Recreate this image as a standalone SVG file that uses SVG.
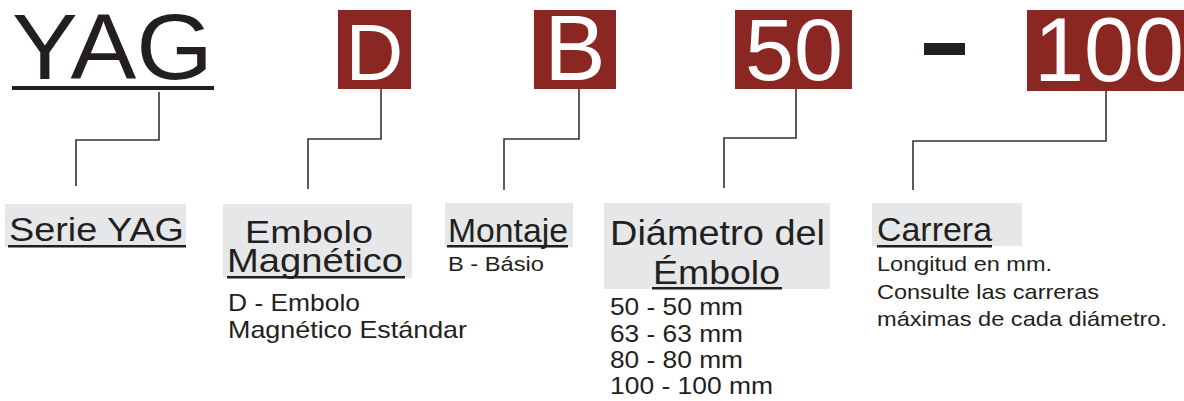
<svg xmlns="http://www.w3.org/2000/svg" width="1184" height="401" viewBox="0 0 1184 401">
<style>
text{font-family:"Liberation Sans",Arial,sans-serif;fill:#231F20}
.box{fill:#8A2723}
.w{fill:#FFFFFF}
.bg{fill:#E6E7E8}
.ul{fill:#231F20}
.c{fill:none;stroke:#333333;stroke-width:1.6}
</style>
<rect width="1184" height="401" fill="#FFFFFF"/>
<g id="yag">
<text x="12" y="79" font-size="92" textLength="201" lengthAdjust="spacingAndGlyphs">YAG</text>
<rect class="ul" x="12" y="86" width="202" height="4"/>
</g>
<g id="code-d">
<rect class="box" x="338" y="10" width="73" height="79"/>
<text class="w" x="374.5" y="80" font-size="80" text-anchor="middle">D</text>
</g>
<g id="code-b">
<rect class="box" x="534" y="10" width="82" height="79"/>
<text class="w" x="575" y="80" font-size="92" text-anchor="middle">B</text>
</g>
<g id="code-50">
<rect class="box" x="735" y="10" width="117" height="79"/>
<text class="w" x="794" y="80" font-size="88" text-anchor="middle">50</text>
</g>
<g id="dash">
<rect class="ul" x="924" y="43" width="41" height="12"/>
</g>
<g id="code-100">
<rect class="box" x="1027" y="10" width="157" height="81"/>
<text class="w" x="1034" y="81" font-size="90">100</text>
</g>
<g id="connectors">
<polyline class="c" points="159,92 159,140 76,140 76,186"/>
<polyline class="c" points="381,89 381,139 308,139 308,189"/>
<polyline class="c" points="579,89 579,139 504,139 504,190"/>
<polyline class="c" points="796,89 796,138 724,138 724,188"/>
<polyline class="c" points="1106,91 1106,141 913,141 913,190"/>
</g>
<g id="label-serie">
<rect class="bg" x="5" y="204" width="181" height="43"/>
<text x="9" y="241" font-size="34" textLength="175" lengthAdjust="spacingAndGlyphs">Serie YAG</text>
<rect class="ul" x="8" y="245" width="178" height="2.5"/>
</g>
<g id="label-embolo">
<rect class="bg" x="223" y="204" width="189" height="74"/>
<text x="245" y="243" font-size="31" textLength="128" lengthAdjust="spacingAndGlyphs">Embolo</text>
<text x="227" y="272" font-size="33" textLength="176" lengthAdjust="spacingAndGlyphs">Magnético</text>
<rect class="ul" x="227" y="276" width="178" height="2.5"/>
<text x="228" y="311" font-size="24" textLength="132" lengthAdjust="spacingAndGlyphs">D - Embolo</text>
<text x="228" y="338" font-size="24" textLength="239" lengthAdjust="spacingAndGlyphs">Magnético Estándar</text>
</g>
<g id="label-montaje">
<rect class="bg" x="445" y="203" width="128" height="44"/>
<text x="448" y="242" font-size="33.5" textLength="120" lengthAdjust="spacingAndGlyphs">Montaje</text>
<rect class="ul" x="447" y="245" width="121" height="2.5"/>
<text x="448" y="271" font-size="21" textLength="96" lengthAdjust="spacingAndGlyphs">B - Básio</text>
</g>
<g id="label-diametro">
<rect class="bg" x="604" y="203" width="226" height="86"/>
<text x="610" y="245" font-size="35" textLength="215" lengthAdjust="spacingAndGlyphs">Diámetro del</text>
<text x="653" y="284" font-size="34" textLength="127" lengthAdjust="spacingAndGlyphs">Émbolo</text>
<rect class="ul" x="652" y="287" width="130" height="2.5"/>
<text x="610" y="315" font-size="23" textLength="133" lengthAdjust="spacingAndGlyphs">50 - 50 mm</text>
<text x="610" y="342" font-size="23" textLength="133" lengthAdjust="spacingAndGlyphs">63 - 63 mm</text>
<text x="610" y="368" font-size="23" textLength="133" lengthAdjust="spacingAndGlyphs">80 - 80 mm</text>
<text x="610" y="394" font-size="23" textLength="163" lengthAdjust="spacingAndGlyphs">100 - 100 mm</text>
</g>
<g id="label-carrera">
<rect class="bg" x="872" y="203" width="150" height="43"/>
<text x="877" y="241" font-size="33" textLength="115" lengthAdjust="spacingAndGlyphs">Carrera</text>
<rect class="ul" x="877" y="245" width="115" height="2.5"/>
<text x="877" y="271" font-size="21" textLength="175" lengthAdjust="spacingAndGlyphs">Longitud en mm.</text>
<text x="877" y="299" font-size="21" textLength="222" lengthAdjust="spacingAndGlyphs">Consulte las carreras</text>
<text x="877" y="326" font-size="21" textLength="290" lengthAdjust="spacingAndGlyphs">máximas de cada diámetro.</text>
</g>
</svg>
